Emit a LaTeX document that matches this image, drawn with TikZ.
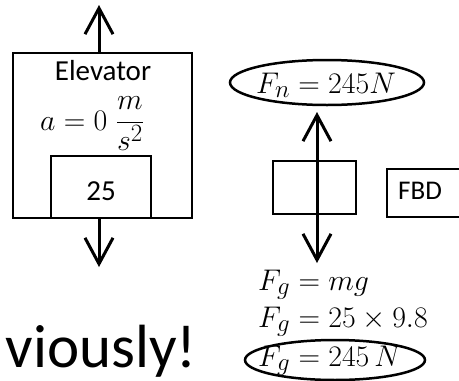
\documentclass[tikz,border=0pt]{standalone}
\usepackage{fontspec}
\setmainfont{Carlito}
\usetikzlibrary{arrows.meta,shapes.geometric}
\tikzset{
  boxline/.style={draw=black,line width=2pt},
  force/.style={draw=black,line width=3pt,-{Straight Barb[length=26pt,width=28pt,line width=3pt]}},
  ring/.style={draw=black,line width=2.5pt,ellipse,inner sep=0pt},
  txt/.style={font=\fontsize{29}{34}\selectfont,inner sep=0pt},
  mth/.style={font=\fontsize{24.88}{30}\selectfont,inner sep=0pt,scale=1.2},
}
\begin{document}
\begin{tikzpicture}[x=1pt,y=-1pt]
\useasboundingbox (0,0) rectangle (459,381);
\clip (0,0) rectangle (459,381);
% elevator
\node[boxline,minimum width=179pt,minimum height=165pt,inner sep=0pt] (elev) at (102.5,135.5) {};
\node[boxline,minimum width=100pt,minimum height=62pt,inner sep=0pt] (mass) at (101,187) {};
\node[txt,anchor=base] (m25) at (101,200) {25};
\node[txt,anchor=base] (elevlbl) at (103,80) {Elevator};
\node[mth,anchor=base west] (acc) at (40,130) {$a = 0\;\displaystyle\frac{m}{s^{2}}$};
\coordinate (etop) at (99,53);
\coordinate (eup) at (99,5);
\coordinate (ebot) at (99,218);
\coordinate (edown) at (99,267);
\draw[force] (etop) -- (eup);
\draw[force] (ebot) -- (edown);
% FBD
\node[boxline,minimum width=83pt,minimum height=53pt,inner sep=0pt] (fbdbox) at (314.5,187.5) {};
\coordinate (fc) at (317,187.5);
\coordinate (fup) at (317,112);
\coordinate (fdown) at (317,263);
\draw[force] (fc) -- (fup);
\draw[force] (fc) -- (fdown);
\node[ring,minimum width=194pt,minimum height=45pt] (fn) at (327,82.5) {};
\node[mth,anchor=base] (fnlbl) at (326,93) {$F_n = 245N$};
\node[boxline,minimum width=90pt,minimum height=48pt,inner sep=0pt] (fbd) at (432,193) {};
\node[font=\fontsize{27}{30}\selectfont,inner sep=0pt,anchor=base west] (fbdlbl) at (398,199) {FBD};
\node[mth,anchor=base west] (fg1) at (258,290) {$F_g = mg$};
\node[mth,anchor=base west] (fg2) at (258,327) {$F_g = 25 \times 9.8$};
\node[ring,minimum width=180pt,minimum height=40pt] (fgring) at (335,360) {};
\node[mth,anchor=base west] (fg3) at (258,366) {$F_g = 245\,N$};
% big text
\node[font=\fontsize{61}{70}\selectfont,inner sep=0pt,anchor=base east] (prev) at (197,367) {viously!};
\end{tikzpicture}
\end{document}
